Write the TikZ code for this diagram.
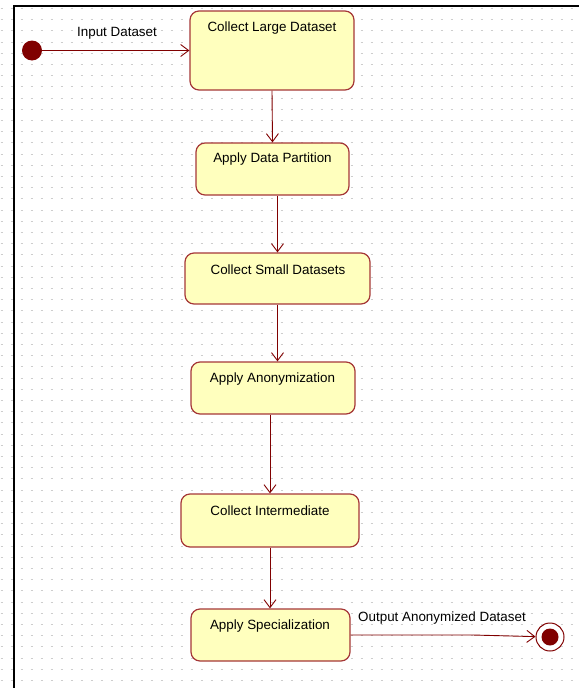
\documentclass[tikz,border=0pt]{standalone}
\usepackage{fontspec}
\setmainfont{Liberation Sans}
\usetikzlibrary{arrows.meta}

\definecolor{umlred}{RGB}{128,0,0}
\definecolor{boxline}{RGB}{165,55,55}
\definecolor{boxfill}{RGB}{255,255,190}
\definecolor{griddot}{RGB}{205,205,205}

\tikzset{every picture/.style={line width=0.75pt}}
\tikzset{
  statebox/.style={draw=boxline, fill=boxfill, rounded corners=9pt, line width=1.2pt, inner sep=0pt},
  statetext/.style={font=\fontsize{13.4}{15}\selectfont, text=black, inner sep=0.75pt},
  flow/.style={draw=umlred, line width=0.9pt, -{Straight Barb[length=8pt,width=12pt]}},
  initdot/.style={circle, fill=umlred, draw=none, minimum size=20pt, inner sep=0pt},
  finalring/.style={circle, draw=umlred, fill=white, line width=1pt, minimum size=28pt, inner sep=0pt},
  gridrow/.style={draw=griddot, line width=1pt, dash pattern=on 2pt off 8pt},
}

\begin{document}
\begin{tikzpicture}[x=1pt,y=1pt,yscale=-1,xscale=1]
\useasboundingbox (0,0) rectangle (579,688);

%Shape: Grid of dots
\foreach \y in {8.5,19.7,...,688}
  \draw [gridrow] (0.7,\y) -- (579,\y);
%Shape: Frame
\draw [line width=2pt] (14,688) -- (14,6) -- (579,6);

%Shape: States
\node [statebox, minimum width=164, minimum height=79] (large) at (272,50.5) {};
\node [statebox, minimum width=153, minimum height=52] (partition) at (272.5,169) {};
\node [statebox, minimum width=185, minimum height=51] (small) at (277.5,278.5) {};
\node [statebox, minimum width=164, minimum height=52] (anon) at (273,388) {};
\node [statebox, minimum width=178, minimum height=53] (inter) at (270,520.5) {};
\node [statebox, minimum width=159, minimum height=52] (spec) at (270.5,635) {};

%Shape: Initial and final state
\node [initdot] (start) at (32,50.5) {};
\node [finalring] (final) at (550,637) {};
\node [initdot, minimum size=17pt] (final-dot) at (final) {};

%Straight Lines
\draw [flow] (start) -- (large.west);
\draw [flow] (large.south) -- (partition.north);
\draw [flow] (partition.south -| small) -- (small.north);
\draw [flow] (small.south) -- (small.south |- anon.north);
\draw [flow] (anon.south -| inter) -- (inter.north);
\draw [flow] (inter.south) -- (inter.south |- spec.north);
\draw [flow] (spec.east) -- ++(122,0) -- (final);

% Text Node
\node [statetext] (large-t) at (272,28) {Collect Large Dataset};
% Text Node
\node [statetext] (partition-t) at (272.5,159) {Apply Data Partition};
% Text Node
\node [statetext] (small-t) at (278,269.5) {Collect Small Datasets};
% Text Node
\node [statetext] (anon-t) at (272.5,379) {Apply Anonymization};
% Text Node
\node [statetext] (inter-t) at (270,510.5) {Collect Intermediate};
% Text Node
\node [statetext] (spec-t) at (270,626.5) {Apply Specialization};
% Text Node
\node [statetext] (input-t) at (117,33) {Input Dataset};
% Text Node
\node [statetext] (output-t) at (442,618.5) {Output Anonymized Dataset};

\end{tikzpicture}
\end{document}
